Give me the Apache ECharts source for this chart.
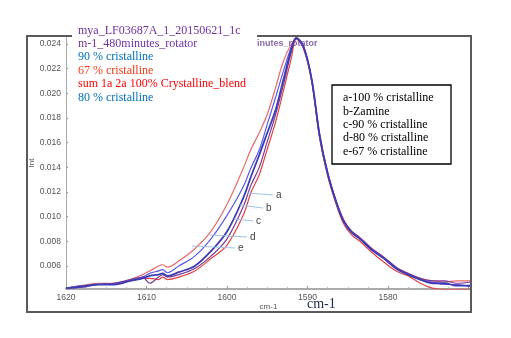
<!DOCTYPE html>
<html><head><meta charset="utf-8">
<script src="https://cdn.jsdelivr.net/npm/echarts@6/dist/echarts.min.js"></script>
<style>html,body{margin:0;padding:0;background:#fff}#c{width:511px;height:338px}</style>
</head><body><div id="c"></div>
<script>
const wavenumbers = [1620, 1618, 1616, 1614, 1612, 1610.5, 1609.6, 1608.5, 1608, 1607.4, 1606, 1604, 1602, 1600, 1598, 1597, 1596, 1595, 1594, 1593, 1592, 1591.4, 1590.5, 1589.5, 1588.5, 1587.5, 1586.5, 1585.5, 1584.5, 1583.5, 1582, 1580.5, 1579, 1577.5, 1576, 1574.5, 1573, 1571.5, 1569.7];
const cryst67 = [0.0042, 0.0044, 0.0046, 0.0046, 0.0049, 0.0053, 0.0056, 0.0060, 0.0061, 0.0059, 0.0064, 0.0074, 0.0088, 0.0110, 0.0139, 0.0155, 0.0168, 0.0183, 0.0204, 0.0226, 0.0240, 0.0244, 0.0236, 0.0210, 0.0164, 0.0134, 0.0113, 0.0097, 0.0088, 0.0083, 0.0074, 0.0067, 0.0059, 0.0054, 0.0050, 0.0048, 0.0047, 0.0048, 0.0048];
const cryst80 = [0.0042, 0.0044, 0.0045, 0.0046, 0.0048, 0.0051, 0.0054, 0.0056, 0.0057, 0.00545, 0.0060, 0.0068, 0.0082, 0.0101, 0.0124, 0.0140, 0.0154, 0.0175, 0.0196, 0.0218, 0.0238, 0.0245, 0.0237, 0.0211, 0.0165, 0.0135, 0.0113, 0.0096, 0.0087, 0.0082, 0.0073, 0.0066, 0.0058, 0.0053, 0.0049, 0.0047, 0.0045, 0.0045, 0.0043];
const cryst90 = [0.0042, 0.0043, 0.0045, 0.0045, 0.0048, 0.0050, 0.0052, 0.0053, 0.0054, 0.0052, 0.0055, 0.0060, 0.0072, 0.0088, 0.0115, 0.0133, 0.0150, 0.0168, 0.0186, 0.0211, 0.0236, 0.0245, 0.0238, 0.0212, 0.0166, 0.0135, 0.0113, 0.0096, 0.0087, 0.0082, 0.0073, 0.0066, 0.0058, 0.0053, 0.0049, 0.0046, 0.0046, 0.0044, 0.0044];
const zamine = [0.0042, 0.0044, 0.0045, 0.0046, 0.0049, 0.0051, 0.0046, 0.0051, 0.0053, 0.0051, 0.0053, 0.0058, 0.0068, 0.0082, 0.0108, 0.0126, 0.0140, 0.0161, 0.0182, 0.0207, 0.0234, 0.0245, 0.0238, 0.0212, 0.0167, 0.0136, 0.0114, 0.0097, 0.0088, 0.0083, 0.0074, 0.0067, 0.0059, 0.0054, 0.0050, 0.0048, 0.0048, 0.0046, 0.0047];
const cryst100 = [0.0042, 0.0043, 0.0045, 0.0045, 0.0048, 0.0050, 0.0050, 0.0049, 0.0051, 0.0049, 0.0051, 0.0056, 0.0066, 0.0077, 0.0101, 0.0120, 0.0134, 0.0155, 0.0176, 0.0202, 0.0229, 0.0244, 0.0237, 0.0211, 0.0164, 0.0133, 0.0111, 0.0094, 0.0085, 0.0080, 0.0071, 0.0063, 0.0056, 0.0052, 0.0046, 0.0042, 0.0041, 0.0041, 0.0041];

const topLegendLines = ["mya_LF03687A_1_20150621_1c", "m-1_480minutes_rotator", "90 % cristalline", "67 % cristalline", "sum 1a 2a 100% Crystalline_blend", "80 % cristalline"];
const boxLegendLines = ["a-100 % cristalline", "b-Zamine", "c-90 % cristalline", "d-80 % cristalline", "e-67 % cristalline"];
const curveLetters = ["a", "b", "c", "d", "e"];
const leaderStart = [[1597.52, 0.01192], [1598.39, 0.01095], [1599.13, 0.00981], [1602.11, 0.00851], [1604.35, 0.00762]];
const leaderEnd = [[1594.29, 0.01176], [1595.53, 0.01070], [1596.77, 0.00965], [1597.52, 0.00835], [1599.01, 0.00746]];

const pairs = vals => wavenumbers.map((w, i) => [w, vals[i]]);
const topColors = ['#7030A0', '#7030A0', '#0070C0', '#F03A10', '#FF0000', '#0070C0'];

const chart = echarts.init(document.getElementById('c'), null, {renderer: 'canvas'});
const mkSeries = (name, vals, color, width) => ({
  name, type: 'line', data: pairs(vals), showSymbol: false, smooth: 0.35,
  lineStyle: {color, width}, itemStyle: {color}, silent: true
});
const s0 = mkSeries('67', cryst67, '#E86A6A', 1.2);
s0.markLine = {
  silent: true, symbol: 'none', animation: false,
  lineStyle: {color: '#9DC3E6', width: 1, type: 'solid'},
  label: {show: true, position: 'end', distance: 3, color: '#404040', fontSize: 10, fontFamily: 'Liberation Sans', formatter: p => p.name},
  data: curveLetters.map((l, i) => [{coord: leaderStart[i], name: l}, {coord: leaderEnd[i]}])
};

chart.setOption({
  animation: false,
  backgroundColor: '#fff',
  grid: {left: 66, top: 37, right: 40, bottom: 49, containLabel: false},
  xAxis: {
    type: 'value', inverse: true, min: 1569.7, max: 1620, splitNumber: 5,
    name: 'cm-1', nameLocation: 'middle', nameGap: 14, nameMoveOverlap: false,
    nameTextStyle: {color: '#555', fontSize: 8, fontFamily: 'Liberation Sans'},
    axisLine: {show: true, lineStyle: {color: '#aaa', width: 2}},
    axisTick: {show: true, inside: true, length: 3, lineStyle: {color: '#999'}},
    minorTick: {show: true, splitNumber: 4, length: 2, lineStyle: {color: '#bbb'}},
    splitLine: {show: false},
    axisLabel: {color: '#555', fontSize: 8.5, fontFamily: 'Liberation Sans', margin: 4,
      showMinLabel: false, formatter: v => (v < 1575 ? '' : String(Math.round(v)))}
  },
  yAxis: {
    type: 'value', min: 0.004134, max: 0.02457, splitNumber: 10,
    name: 'Int', nameLocation: 'middle', nameGap: 30, nameRotate: 90, nameMoveOverlap: false,
    nameTextStyle: {color: '#555', fontSize: 8, fontFamily: 'Liberation Sans'},
    axisLine: {show: true, lineStyle: {color: '#aaa', width: 1}},
    axisTick: {show: true, inside: true, length: 2, lineStyle: {color: '#999'}},
    splitLine: {show: false},
    axisLabel: {color: '#555', fontSize: 8.5, fontFamily: 'Liberation Sans', margin: 5,
      showMinLabel: false, showMaxLabel: false, formatter: v => v.toFixed(3)}
  },
  series: [
    s0,
    mkSeries('100', cryst100, '#E04444', 1.2),
    mkSeries('80', cryst80, '#5A5AE6', 1.2),
    mkSeries('Zamine', zamine, '#7A3A9A', 1.2),
    mkSeries('90', cryst90, '#3C3CB4', 1.8)
  ],
  graphic: [
    {type: 'text', z: 0, left: 257, top: 39, style: {text: 'inutes_rotator', fill: '#8A6AA8', font: 'bold 9px "Liberation Sans"'}},
    {type: 'rect', z: 90, shape: {x: 27, y: 36, width: 444, height: 276}, style: {fill: 'none', stroke: '#5a5a5a', lineWidth: 2}},
    {type: 'rect', z: 95, shape: {x: 72, y: 20, width: 185, height: 85}, style: {fill: '#fff'}},
    ...topLegendLines.map((t, i) => ({type: 'text', z: 96, left: 78, top: 24.5 + i * 13.4,
      style: {text: t, fill: topColors[i], font: '12px "Liberation Serif"'}})),
    {type: 'rect', z: 97, shape: {x: 332, y: 85, width: 119, height: 79}, style: {fill: '#fff', stroke: '#000', lineWidth: 1.3}},
    ...boxLegendLines.map((t, i) => ({type: 'text', z: 98, left: 343, top: 92 + i * 13.4,
      style: {text: t, fill: '#000', font: '12px "Liberation Serif"'}})),
    {type: 'text', z: 98, left: 307, top: 297, style: {text: 'cm-1', fill: '#1a2a4a', font: '14px "Liberation Serif"'}}
  ]
});
</script></body></html>
